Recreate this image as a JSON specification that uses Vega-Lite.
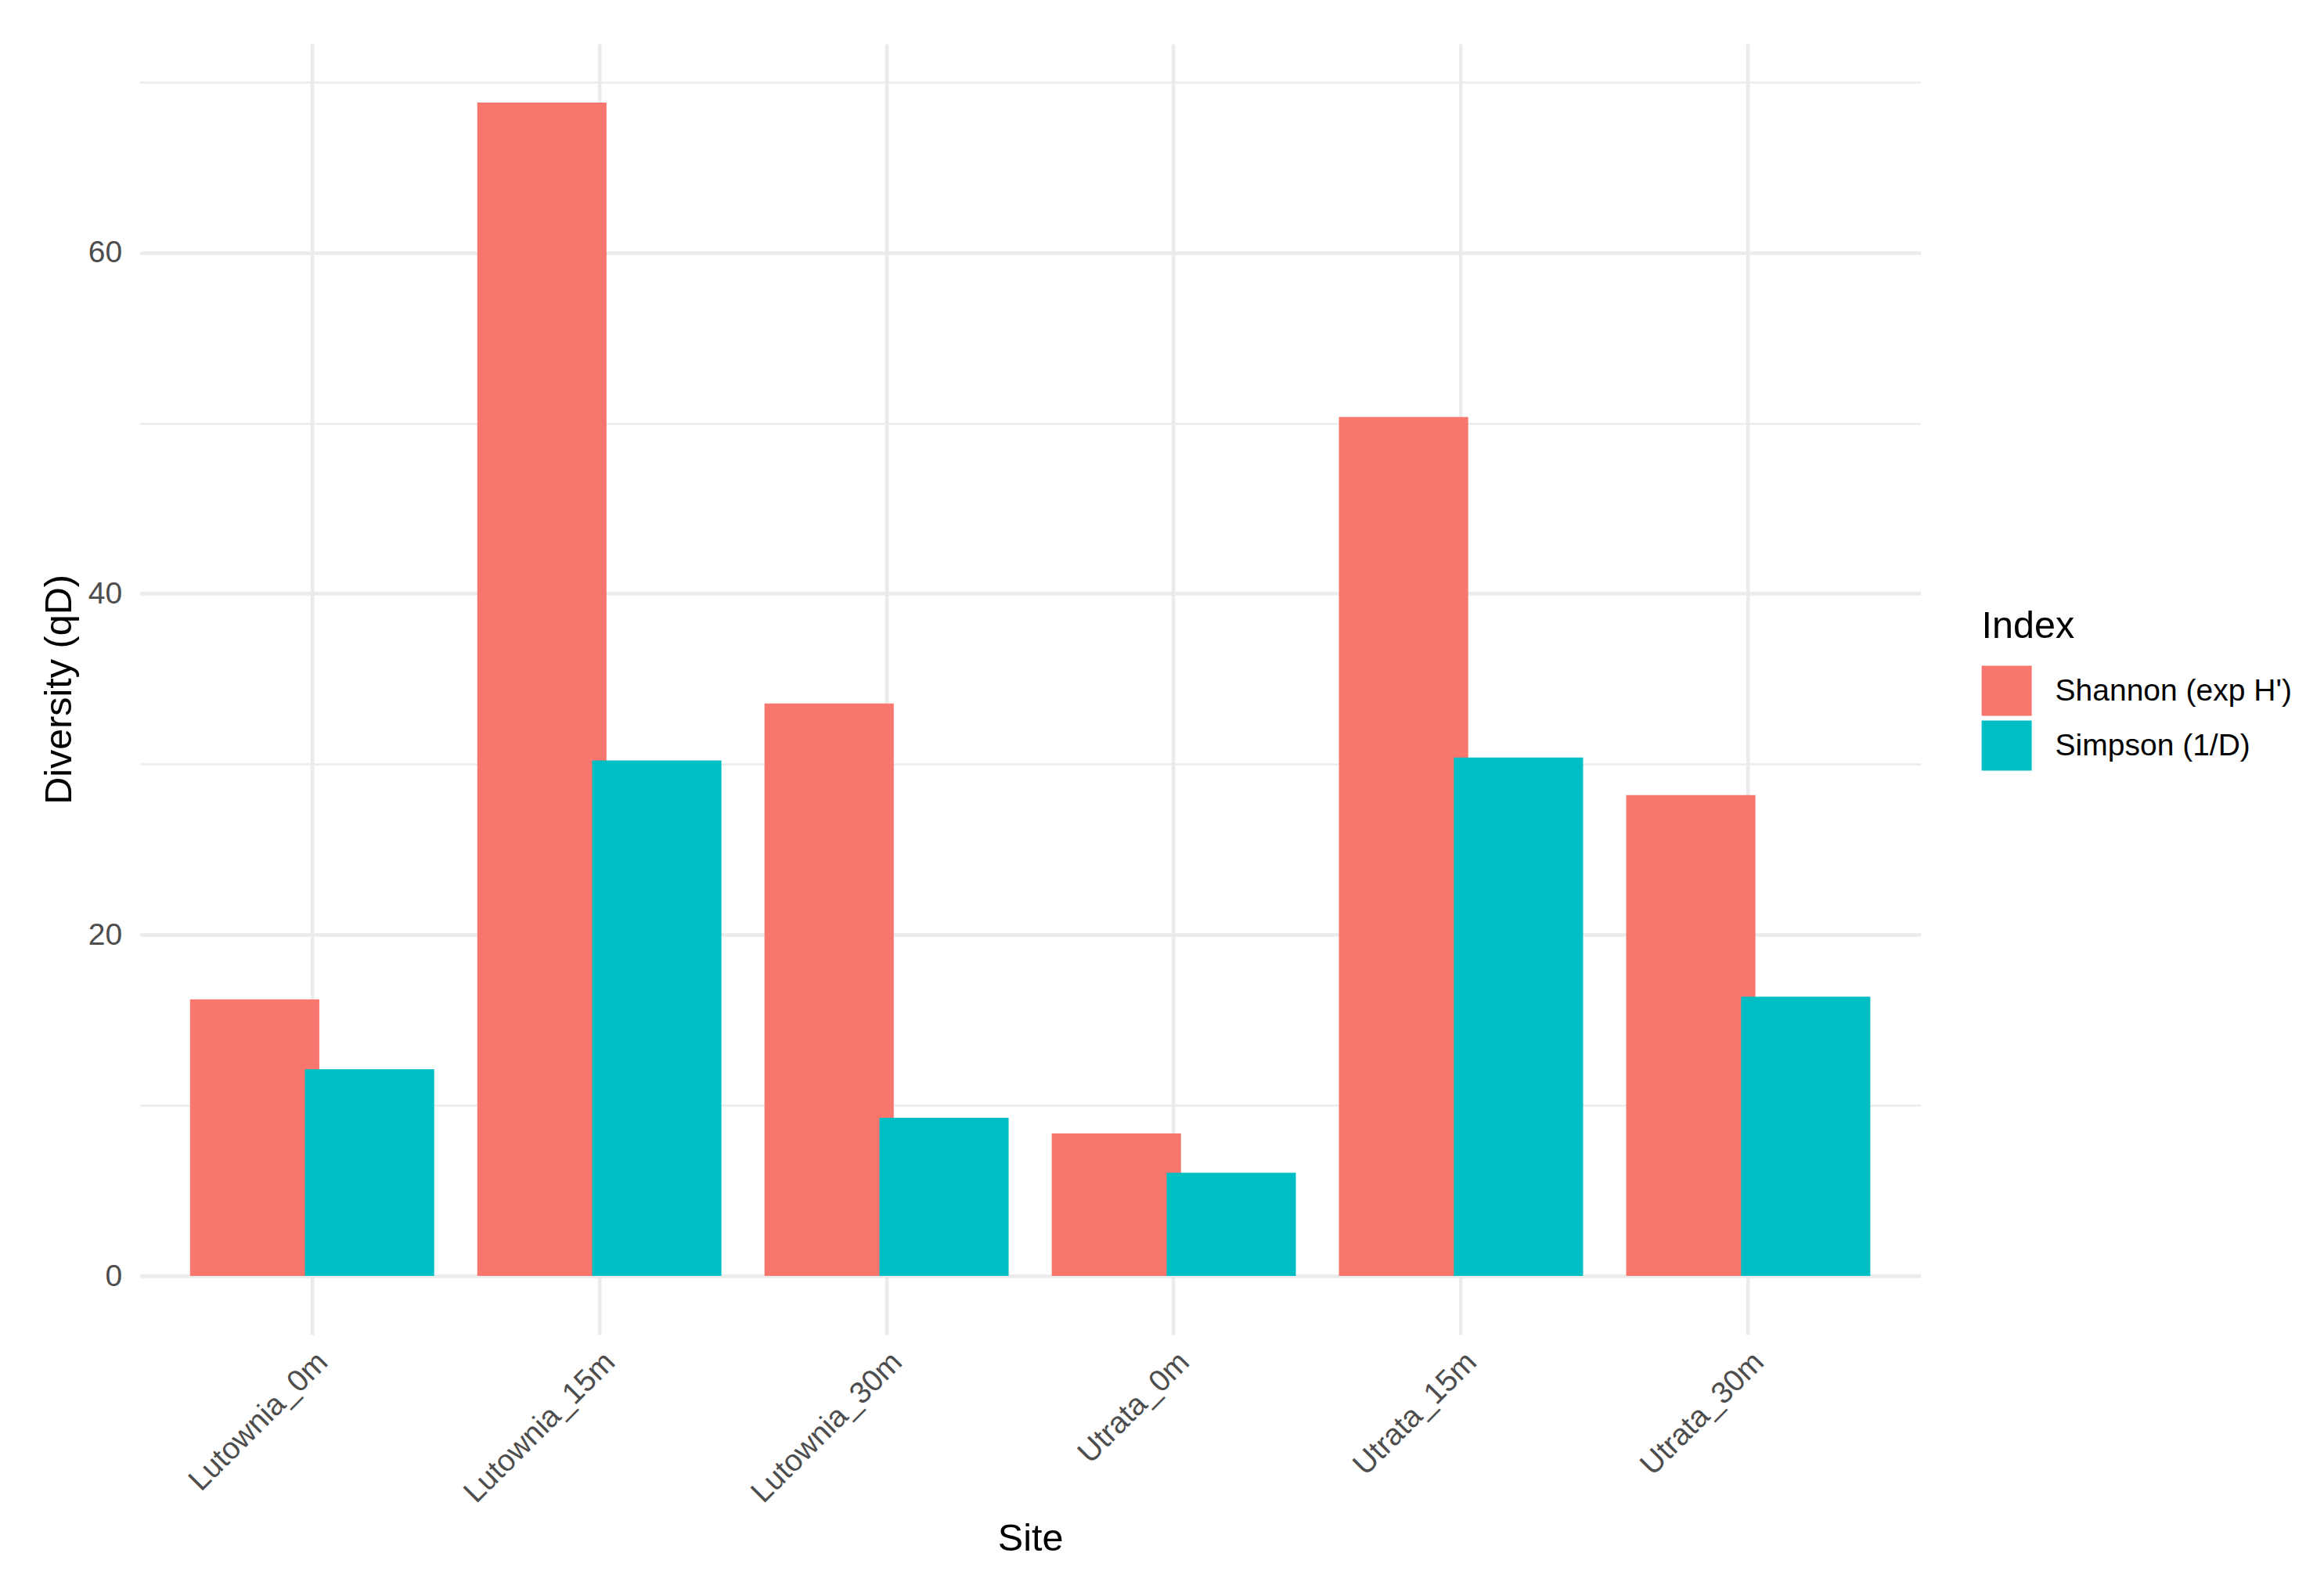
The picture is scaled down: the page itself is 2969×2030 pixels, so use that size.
{
  "$schema": "https://vega.github.io/schema/vega-lite/v6.json",
  "width": 2275,
  "height": 1649,
  "autosize": {"type": "none"},
  "padding": {"left": 178.6, "top": 56, "right": 515.4, "bottom": 325},
  "background": "white",
  "config": {
    "font": "Liberation Sans",
    "view": {"stroke": null}
  },
  "data": {
    "values": [
      {"Site": "Lutownia_0m", "Index": "Shannon (exp H')", "Diversity": 16.22},
      {"Site": "Lutownia_0m", "Index": "Simpson (1/D)", "Diversity": 12.12},
      {"Site": "Lutownia_15m", "Index": "Shannon (exp H')", "Diversity": 68.8},
      {"Site": "Lutownia_15m", "Index": "Simpson (1/D)", "Diversity": 30.22},
      {"Site": "Lutownia_30m", "Index": "Shannon (exp H')", "Diversity": 33.56},
      {"Site": "Lutownia_30m", "Index": "Simpson (1/D)", "Diversity": 9.27},
      {"Site": "Utrata_0m", "Index": "Shannon (exp H')", "Diversity": 8.35},
      {"Site": "Utrata_0m", "Index": "Simpson (1/D)", "Diversity": 6.05},
      {"Site": "Utrata_15m", "Index": "Shannon (exp H')", "Diversity": 50.36},
      {"Site": "Utrata_15m", "Index": "Simpson (1/D)", "Diversity": 30.4},
      {"Site": "Utrata_30m", "Index": "Shannon (exp H')", "Diversity": 28.19},
      {"Site": "Utrata_30m", "Index": "Simpson (1/D)", "Diversity": 16.38}
    ]
  },
  "encoding": {
    "x": {
      "field": "Site",
      "type": "nominal",
      "sort": ["Lutownia_0m", "Lutownia_15m", "Lutownia_30m", "Utrata_0m", "Utrata_15m", "Utrata_30m"],
      "scale": {"paddingInner": 0, "paddingOuter": 0.1},
      "axis": {
        "title": "Site",
        "titleFontSize": 48.5,
        "titleFontWeight": "normal",
        "titleColor": "black",
        "titleBaseline": "alphabetic",
        "titleY": 275,
        "labelAngle": -45,
        "labelAlign": "right",
        "labelBaseline": "top",
        "labelPadding": 15,
        "labelFontSize": 39,
        "labelColor": "#4D4D4D",
        "labelLimit": 0,
        "domain": false,
        "ticks": false,
        "tickSize": 0,
        "grid": true,
        "gridColor": "#EBEBEB",
        "gridWidth": 4.6
      }
    },
    "y": {
      "field": "Diversity",
      "type": "quantitative",
      "scale": {"domain": [-3.44, 72.24], "nice": false, "zero": false},
      "axis": {
        "title": "Diversity (qD)",
        "titleFontSize": 48.5,
        "titleFontWeight": "normal",
        "titleColor": "black",
        "titleBaseline": "alphabetic",
        "titleX": -88,
        "titleY": 824.5,
        "values": [0, 10, 20, 30, 40, 50, 60, 70],
        "labelExpr": "datum.value % 20 === 0 ? datum.label : ''",
        "labelPadding": 23,
        "labelFontSize": 39,
        "labelColor": "#4D4D4D",
        "domain": false,
        "ticks": false,
        "tickSize": 0,
        "grid": true,
        "gridColor": "#EBEBEB",
        "gridWidth": {"expr": "datum.value % 20 === 0 ? 4.6 : 2.4"}
      }
    },
    "y2": {"datum": 0},
    "color": {
      "field": "Index",
      "type": "nominal",
      "scale": {
        "domain": ["Shannon (exp H')", "Simpson (1/D)"],
        "range": ["#F8766D", "#00BFC4"]
      },
      "legend": {
        "title": "Index",
        "orient": "none",
        "legendX": 2353,
        "legendY": 721,
        "titleFontSize": 48.5,
        "titleFontWeight": "normal",
        "titleColor": "black",
        "titlePadding": 25,
        "labelFontSize": 39,
        "labelColor": "black",
        "labelLimit": 0,
        "labelOffset": 30,
        "symbolType": "square",
        "symbolSize": 4096,
        "symbolStrokeWidth": 0,
        "symbolOpacity": 1,
        "rowPadding": 6
      }
    }
  },
  "layer": [
    {
      "transform": [{"filter": {"field": "Index", "equal": "Shannon (exp H')"}}],
      "mark": {"type": "bar", "width": {"band": 0.45}, "xOffset": -73.39}
    },
    {
      "transform": [{"filter": {"field": "Index", "equal": "Simpson (1/D)"}}],
      "mark": {"type": "bar", "width": {"band": 0.45}, "xOffset": 73.39}
    }
  ]
}
